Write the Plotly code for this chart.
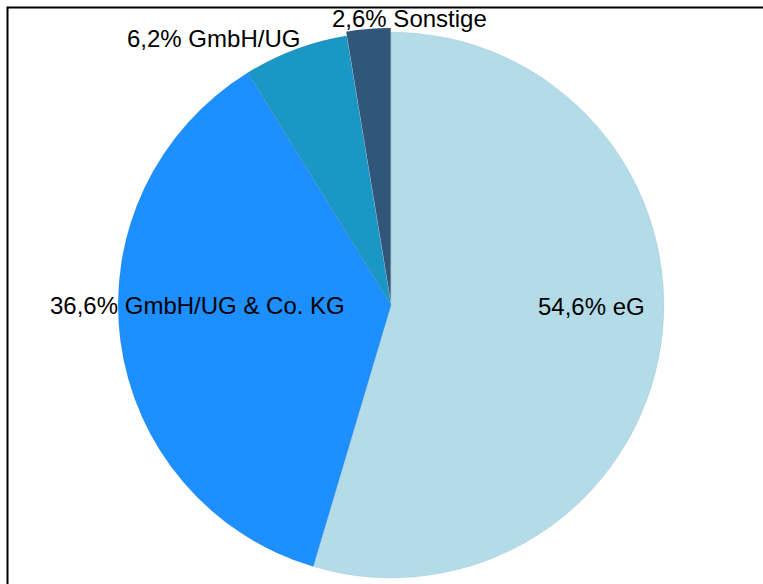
import plotly.graph_objects as go

labels = ["eG", "GmbH/UG & Co. KG", "GmbH/UG", "Sonstige"]
values = [54.6, 36.6, 6.2, 2.6]
colors = ["#b3dce8", "#1e8fff", "#1a97c5", "#30577a"]
pulls = [0, 0, 0, 0.015]

W, H = 763, 584
# label anchor pixel positions (center x, middle y)
label_px = [(591, 306.5), (197.5, 305), (213.5, 39), (409, 19)]

def fmt(v):
    return f"{v:.1f}".replace(".", ",") + "%"

fig = go.Figure(go.Pie(
    labels=labels,
    values=values,
    marker=dict(colors=colors, line=dict(width=0.4, color="rgba(20,60,110,0.2)")),
    sort=False,
    direction="clockwise",
    rotation=0,
    pull=pulls,
    textinfo="none",
    hoverinfo="label+percent",
    showlegend=False,
    domain=dict(x=[114 / W, 668 / W], y=[1 - 582 / H, 1 - 28 / H]),
))

annotations = []
for lab, v, (px, py) in zip(labels, values, label_px):
    annotations.append(dict(
        x=px / W, y=1 - py / H, xref="paper", yref="paper",
        text=f"{fmt(v)} {lab}", showarrow=False,
        xanchor="center", yanchor="middle",
        font=dict(family="Liberation Sans, Arial", size=24, color="black"),
    ))

fig.update_layout(
    width=W, height=H,
    margin=dict(l=0, r=0, t=0, b=0),
    paper_bgcolor="white",
    plot_bgcolor="white",
    annotations=annotations,
    shapes=[dict(type="rect", xref="paper", yref="paper",
                 x0=7.5 / W, x1=1.1, y0=-0.1, y1=1 - 7.5 / H,
                 line=dict(color="black", width=2), layer="above")],
)

fig.write_html("out.html", config={"displayModeBar": False},
               post_script="document.body.style.margin='0';")
